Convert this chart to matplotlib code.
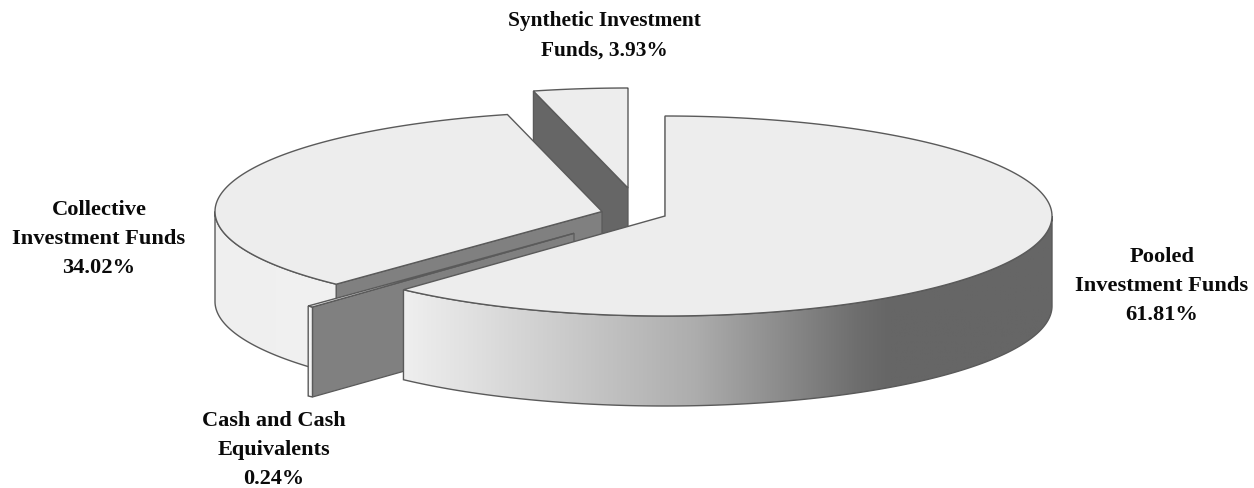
import numpy as np
import matplotlib
matplotlib.use('Agg')
import matplotlib.pyplot as plt
from matplotlib.colors import LinearSegmentedColormap
from matplotlib.patches import Polygon

# slices, clockwise from 12 o'clock
names = ['Pooled Investment Funds', 'Cash and Cash Equivalents',
         'Collective Investment Funds', 'Synthetic Investment Funds']
values = [61.81, 0.24, 34.02, 3.93]
labels = ['Pooled\nInvestment Funds\n61.81%',
          'Cash and Cash\nEquivalents\n0.24%',
          'Collective\nInvestment Funds\n34.02%',
          'Synthetic Investment\nFunds, 3.93%']

W, H = 1254, 489
RX, RY, DEPTH = 387, 100, 90
EDGE = '#5a5a5a'
TOP = '#ededed'

# apex of every slice after the explosion, in pixels
apexes = [(665, 217), (574, 234.3), (602, 212.5), (628, 189)]
cut_colors = ['#666666', '#808080', '#808080', '#666666']
label_pos = [(1162, 286), (274, 450), (99, 239), (604, 36)]
label_sizes = [16.2, 16.0, 16.2, 15.4]

# side wall shading along x
wall_cmaps = [
    LinearSegmentedColormap.from_list('w0', [(0, '#efefef'), (0.12, '#dedede'), (0.45, '#adadad'),
                                             (0.70, '#6e6e6e'), (0.75, '#666666'), (1, '#666666')]),
    LinearSegmentedColormap.from_list('w1', ['#f4f4f4', '#f4f4f4']),
    LinearSegmentedColormap.from_list('w2', ['#efefef', '#f1f1f1']),
    None,
]


def arc(apex, t0, t1, n=200):
    t = np.radians(np.linspace(t0, t1, n))
    return np.column_stack([apex[0] + RX * np.sin(t), apex[1] - RY * np.cos(t)])


def draw_wall(ax, apex, t0, t1, cmap):
    # only the part of the rim between 3 and 9 o'clock faces the viewer
    a, b = max(t0, 90), min(t1, 270)
    if a >= b:
        return
    top = arc(apex, a, b)
    pts = np.vstack([top, (top + [0, DEPTH])[::-1]])
    patch = Polygon(pts, closed=True, fc='none', ec=EDGE, lw=1.0, zorder=ax.zo + 0.2)
    ax.add_patch(patch)
    grad = np.linspace(0, 1, 256).reshape(1, -1)
    im = ax.imshow(grad, cmap=cmap, aspect='auto', zorder=ax.zo + 0.1,
                   extent=[pts[:, 0].min(), pts[:, 0].max(), pts[:, 1].max(), pts[:, 1].min()])
    im.set_clip_path(patch)
    ax.zo += 1


def main():
    plt.rcParams['font.family'] = ['Liberation Serif', 'DejaVu Serif']
    fig = plt.figure(figsize=(W / 100, H / 100), dpi=100)
    ax = fig.add_axes([0, 0, 1, 1])
    ax.zo = 1

    angles = np.cumsum([0] + values) * 3.6
    # back to front: synthetic, collective, cash, pooled
    for i in [3, 2, 1, 0]:
        apex = np.array(apexes[i], dtype=float)
        t0, t1 = angles[i], angles[i + 1]
        start = arc(apex, t0, t0, 1)[0]
        cut = [apex, start, start + [0, DEPTH], apex + [0, DEPTH]]
        ax.add_patch(Polygon(cut, closed=True, fc=cut_colors[i], ec=EDGE, lw=0.9, zorder=ax.zo))
        ax.zo += 1
        draw_wall(ax, apex, t0, t1, wall_cmaps[i])
        top = np.vstack([apex, arc(apex, t0, t1)])
        ax.add_patch(Polygon(top, closed=True, fc=TOP, ec=EDGE, lw=1.0, zorder=ax.zo))
        ax.zo += 1

    for text, (x, y), size in zip(labels, label_pos, label_sizes):
        ax.text(x, y, text, ha='center', va='center', fontsize=size, fontweight='bold',
                color='#0a0a0a', linespacing=1.62, zorder=50)

    ax.set_xlim(0, W)
    ax.set_ylim(H, 0)
    ax.axis('off')
    fig.savefig('out.png', dpi=100)


if __name__ == '__main__':
    main()
